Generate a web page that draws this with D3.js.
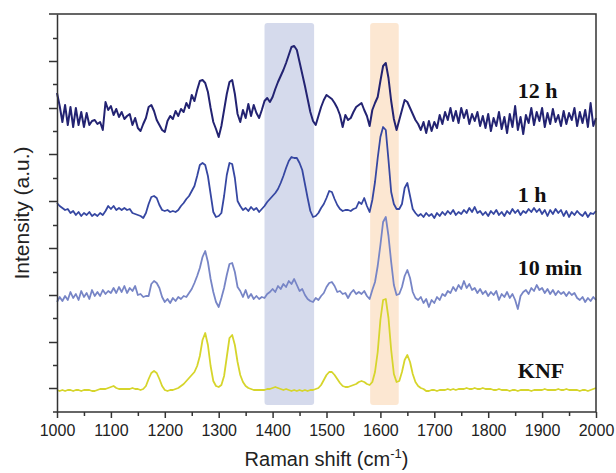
<!DOCTYPE html>
<html>
<head>
<meta charset="utf-8">
<script src="https://cdn.jsdelivr.net/npm/d3@7"></script>
<style>
  body { margin: 0; background: #fff; }
  svg { display: block; }
  .domain, .tick line { stroke: #333; stroke-width: 1.5; }
</style>
</head>
<body>
<div id="chart"></div>
<script>
// Raman spectra, sampled every 5 cm-1 from 1000 to 2000
const shifts = d3.range(1000, 2001, 5);

const seriesNames = ["12 h", "1 h", "10 min", "KNF"];

const knf = [
  22,21,22,21,22,22,21,22,22,21,22,22,22,21,21,22,23,23,23,24,
  25,26,24,23,23,23,23,23,24,23,23,22,23,26,33,39,41,39,33,26,
  22,21,22,22,23,24,26,28,31,34,37,40,46,56,72,79,67,46,31,26,
  25,27,36,55,74,77,67,50,37,30,26,24,23,22,22,22,22,22,23,23,
  24,25,24,23,22,23,22,21,22,21,22,21,22,21,22,22,23,24,27,32,
  37,40,40,37,33,29,26,25,25,26,27,28,30,31,30,28,27,30,40,60,
  92,112,113,94,62,38,30,31,40,52,57,50,38,30,26,24,23,21,21,22,
  22,21,22,22,22,23,22,23,22,23,23,23,24,23,23,24,23,23,24,23,
  23,23,22,22,23,22,22,22,21,22,22,21,22,22,22,22,21,22,22,22,
  22,23,22,22,22,22,23,22,22,23,22,22,22,22,21,22,22,21,22,23,
  24
];

const min10 = [
  110,115,111,116,112,120,114,118,112,121,115,119,113,122,116,120,116,122,118,121,
  119,124,119,125,120,126,119,124,121,126,117,118,115,116,116,128,131,129,124,115,
  110,113,109,114,111,115,113,116,115,119,123,129,136,144,155,161,150,133,120,110,
  105,114,124,137,148,149,140,125,121,115,122,114,118,113,116,113,115,114,118,120,
  123,120,126,123,128,125,131,128,133,127,121,123,117,113,111,110,114,112,116,119,
  125,129,130,126,120,121,118,119,114,119,122,118,120,118,121,116,113,122,130,146,
  167,190,195,176,150,127,117,118,125,136,142,134,120,114,112,115,109,113,105,112,
  109,115,112,118,116,121,119,125,121,127,123,131,124,128,122,124,119,123,118,121,
  116,120,117,121,112,118,115,120,114,118,112,103,116,120,122,118,124,121,127,122,
  124,119,123,118,122,117,121,118,120,116,120,117,119,114,112,115,110,114,111,115,
  112
];

const h1 = [
  209,206,204,202,203,199,201,197,200,196,199,197,200,196,198,196,199,197,201,206,
  203,206,202,204,202,204,202,203,199,198,197,196,194,199,208,215,216,214,207,202,
  201,202,200,201,200,202,206,209,213,216,221,226,236,247,249,247,236,218,200,195,
  196,199,216,237,249,248,234,211,206,202,204,201,205,202,204,200,203,206,210,213,
  216,219,223,229,236,244,251,255,254,254,249,242,228,214,201,195,196,199,204,208,
  214,221,220,213,207,203,201,202,202,201,203,204,210,208,214,206,200,212,230,254,
  275,285,282,252,220,208,203,203,208,224,229,216,203,199,196,198,195,199,196,198,
  194,199,196,200,197,201,198,202,197,200,198,202,199,204,200,205,199,201,197,200,
  196,201,198,202,197,200,196,201,198,203,199,202,197,201,199,203,200,204,200,203,
  198,202,196,202,198,203,199,202,196,201,195,200,197,201,198,196,200,195,199,198,
  201
];

const h12 = [
  319,306,290,307,287,305,285,304,287,300,285,299,287,291,292,288,290,282,310,302,
  306,297,303,295,300,293,296,298,287,294,284,281,288,294,305,307,301,292,287,282,
  280,291,296,293,301,296,303,300,309,304,317,311,322,331,332,329,320,304,290,283,
  275,286,302,318,330,332,318,298,290,302,294,308,296,307,299,294,302,311,314,310,
  315,323,330,336,342,349,357,365,366,362,350,338,326,313,300,291,287,296,305,312,
  317,315,313,309,304,297,285,297,292,294,300,305,307,309,302,296,286,302,309,315,
  331,346,349,334,311,293,282,292,302,312,310,304,298,292,288,282,290,279,291,281,
  290,284,297,288,300,292,304,291,301,289,304,294,302,288,298,291,300,286,296,284,
  298,281,294,286,300,283,295,279,298,285,306,282,295,278,297,289,304,287,300,291,
  304,285,299,288,303,290,297,286,301,288,299,292,304,286,300,289,302,285,309,286,
  294
];

// highlighted regions (cm-1)
const bandRanges = [[1385, 1477], [1581, 1634]];

const xTicks = d3.range(1000, 2001, 100);
const xMinorTicks = d3.range(1050, 2000, 100);
const yMajorTicks = [24, 70, 117, 164, 211, 258, 304, 351];
const yMinorTicks = [47, 94, 140, 187, 234, 281, 328, 374];

const width = 616, height = 473;
const margin = {top: 14, right: 20, bottom: 61, left: 57};

const svg = d3.select("#chart").append("svg")
  .attr("width", width)
  .attr("height", height);

const x = d3.scaleLinear().domain([1000, 2000]).range([margin.left, width - margin.right]);
const y = d3.scaleLinear().domain([0, 398]).range([height - margin.bottom, margin.top]);

// shaded bands
const bandColors = ["#d5daec", "#fce7d2"];
svg.selectAll("rect.band")
  .data(bandRanges)
  .enter()
  .append("rect")
  .attr("class", "band")
  .attr("x", d => x(d[0]))
  .attr("width", d => x(d[1]) - x(d[0]))
  .attr("y", y(389))
  .attr("height", y(7) - y(389))
  .attr("rx", 3)
  .attr("fill", (d, i) => bandColors[i]);

// spectra
const series = [
  {name: seriesNames[0], values: h12, color: "#232372", width: 2},
  {name: seriesNames[1], values: h1, color: "#3647a2", width: 1.8},
  {name: seriesNames[2], values: min10, color: "#7785c6", width: 1.8},
  {name: seriesNames[3], values: knf, color: "#d6d52c", width: 1.8}
];

const line = d3.line()
  .x((d, i) => x(shifts[i]))
  .y(d => y(d));

svg.selectAll("path.spectrum")
  .data(series)
  .enter()
  .append("path")
  .attr("class", "spectrum")
  .attr("d", d => line(d.values))
  .attr("fill", "none")
  .attr("stroke", d => d.color)
  .attr("stroke-width", d => d.width)
  .attr("stroke-linejoin", "round");

// series labels
const labelY = [314, 210, 137, 34];
svg.selectAll("text.label")
  .data(series)
  .enter()
  .append("text")
  .attr("class", "label")
  .attr("x", x(1855))
  .attr("y", (d, i) => y(labelY[i]))
  .attr("font-family", "'Liberation Serif', 'Times New Roman', serif")
  .attr("font-weight", "bold")
  .attr("font-size", 22)
  .attr("fill", "#111")
  .text(d => d.name);

// axes
const plotBottom = y.range()[0], plotTop = y.range()[1];

svg.append("g")
  .attr("transform", `translate(0,${plotBottom})`)
  .call(d3.axisBottom(x).tickValues(xTicks).tickSize(6).tickSizeOuter(0).tickPadding(7).tickFormat(d3.format("d")))
  .call(g => g.select(".domain").attr("d", `M${x(1000) - 4},0H${x(2000)}`))
  .call(g => g.selectAll(".tick text")
    .attr("font-family", "'Liberation Sans', Arial, sans-serif")
    .attr("font-size", 16)
    .attr("fill", "#222"));

svg.append("g")
  .attr("transform", `translate(0,${plotBottom})`)
  .call(d3.axisBottom(x).tickValues(xMinorTicks).tickSize(4).tickFormat(""))
  .call(g => g.select(".domain").remove());

svg.append("g")
  .attr("transform", `translate(${x(1000)},0)`)
  .call(d3.axisLeft(y).tickValues(yMajorTicks).tickSize(8).tickSizeOuter(0).tickFormat(""));

svg.append("g")
  .attr("transform", `translate(${x(1000)},0)`)
  .call(d3.axisLeft(y).tickValues(yMinorTicks).tickSize(4).tickFormat(""))
  .call(g => g.select(".domain").remove());

// top and right frame
svg.append("path")
  .attr("d", `M${x(1000) - 8},${plotTop}H${x(2000)}V${plotBottom}`)
  .attr("fill", "none")
  .attr("stroke", "#333")
  .attr("stroke-width", 1.5);

// axis titles
const xTitle = svg.append("text")
  .attr("x", (x(1000) + x(2000)) / 2)
  .attr("y", 466)
  .attr("text-anchor", "middle")
  .attr("font-family", "'Liberation Sans', Arial, sans-serif")
  .attr("font-size", 20)
  .attr("fill", "#222");
xTitle.append("tspan").text("Raman shift (cm");
xTitle.append("tspan").attr("font-size", 13).attr("dy", -8).text("-1");
xTitle.append("tspan").attr("dy", 8).text(")");

svg.append("text")
  .attr("transform", `translate(29,${(plotTop + plotBottom) / 2}) rotate(-90)`)
  .attr("text-anchor", "middle")
  .attr("font-family", "'Liberation Sans', Arial, sans-serif")
  .attr("font-size", 21)
  .attr("fill", "#222")
  .text("Intensity (a.u.)");
</script>
</body>
</html>
